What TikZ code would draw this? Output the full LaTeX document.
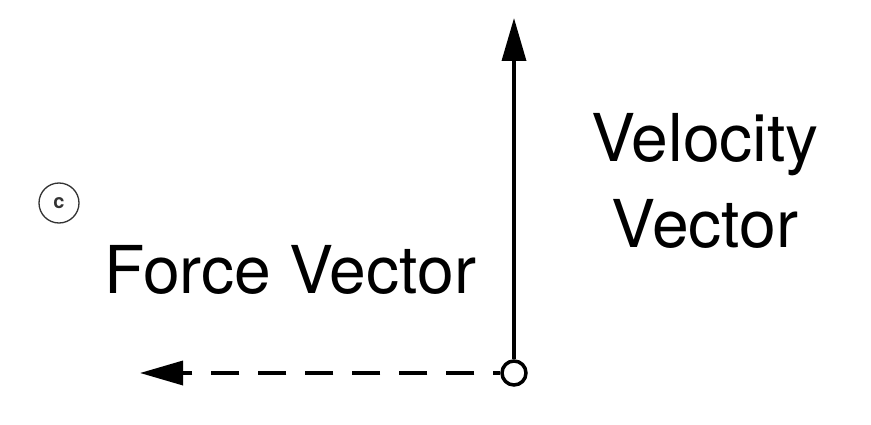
\documentclass[tikz,border=0pt]{standalone}
\usepackage{fontspec}
\setmainfont{TeX Gyre Heros}
\usetikzlibrary{arrows.meta,positioning}

\begin{document}
\begin{tikzpicture}[x=1pt,y=1pt,
    vec/.style={-{Triangle[length=43pt,width=24pt]},line width=3.5pt},
    force vec/.style={vec,dash pattern=on 28pt off 19pt,dash phase=21pt},
    origin node/.style={circle,draw,fill=white,line width=3.5pt,minimum size=24pt,inner sep=0pt},
    label node/.style={font=\fontsize{66}{80}\selectfont,align=center,anchor=base,inner sep=0pt},
    tag node/.style={circle,draw=black!80,line width=1.3pt,minimum size=40pt,inner sep=0pt,
        text=black!80,font=\fontsize{20}{20}\selectfont\bfseries}]

    \useasboundingbox (0,0) rectangle (871,424);

    \node[origin node] (o) at (514,51) {};
    \coordinate (v) at (514,406);
    \coordinate (f) at (140,51);
    \node[label node] (vl) at (705,177) {Velocity\\[6pt]Vector};
    \node[label node] (fl) at (290,131) {Force Vector};
    \node[tag node] (c) at (59,221) {c};

    \path (o) edge[vec] (v)
          (o) edge[force vec] (f);
\end{tikzpicture}
\end{document}
